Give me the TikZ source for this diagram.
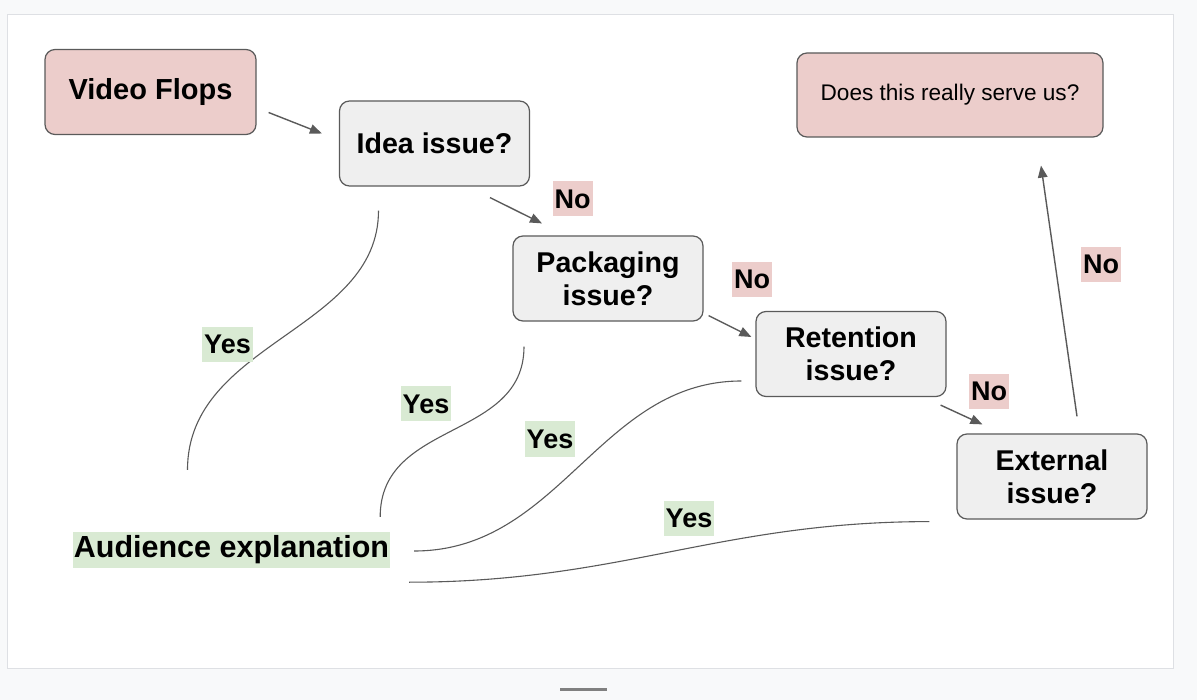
\documentclass[tikz,border=0pt]{standalone}
\usepackage{fontspec}
\setmainfont{Liberation Sans}
\usetikzlibrary{arrows.meta}

\definecolor{flopred}{RGB}{236,205,203}
\definecolor{askgray}{RGB}{239,239,239}
\definecolor{yesgreen}{RGB}{217,234,211}
\definecolor{edgegray}{RGB}{90,90,90}
\definecolor{pagegray}{RGB}{248,249,250}
\definecolor{framegray}{RGB}{222,224,228}

\begin{document}
\begin{tikzpicture}[x=1pt, y=-1pt,
	box/.style={draw=edgegray, line width=1.2pt, rounded corners=10pt, inner sep=0pt, align=center},
	ask/.style={box, fill=askgray, minimum width=190pt, minimum height=85pt, font=\fontsize{28.6}{33}\selectfont\bfseries},
	tag/.style={inner xsep=2pt, inner ysep=0pt, minimum height=35pt, font=\fontsize{27}{30}\selectfont\bfseries},
	no/.style={tag, fill=flopred},
	yes/.style={tag, fill=yesgreen},
	arr/.style={edgegray, line width=1.4pt, -{Triangle[length=12pt, width=9.5pt]}},
	branch/.style={edgegray, line width=1.1pt}]
	\useasboundingbox (0,0) rectangle (1197,700);
	\fill [pagegray] (0,0) rectangle (1197,700);
	\filldraw [fill=white, draw=framegray, line width=0.8pt] (7,14) rectangle (1173,668);
	\draw [gray, line width=3pt] (560,689) -- (607,689);

	\node [box, fill=flopred, minimum width=211pt, minimum height=85pt, font=\fontsize{29}{33}\selectfont\bfseries] (flops) at (150.5,92) {Video Flops};
	\node [ask] (idea) at (434.5,143.5) {Idea issue?};
	\node [ask] (pack) at (608,278.5) {Packaging\\issue?};
	\node [ask] (ret)  at (851,354) {Retention\\issue?};
	\node [ask] (ext)  at (1052,476.5) {External\\issue?};
	\node [box, fill=flopred, minimum width=306pt, minimum height=84pt, font=\fontsize{22.6}{26}\selectfont] (serve) at (950,95) {Does this really serve us?};
	\node [fill=yesgreen, inner sep=0pt, minimum width=317pt, minimum height=36pt, font=\fontsize{30.5}{34}\selectfont\bfseries] (aud) at (231.5,550) {Audience explanation};

	% the "no" chain
	\draw [arr] ([shift={(12,20.5)}]flops.east) -- ([shift={(-17,-10)}]idea.west);
	\draw [arr] ([shift={(55.5,11)}]idea.south) -- ([shift={(-66,-12)}]pack.north);
	\draw [arr] ([shift={(5,-6)}]pack.south east) -- ([shift={(-4,-17)}]ret.west);
	\draw [arr] ([shift={(-6,8)}]ret.south east) -- ([shift={(26,-9)}]ext.north west);
	\draw [arr] ([shift={(25,-17)}]ext.north) -- ([shift={(91,28)}]serve.south);
	\node [no] (no1) at (572.5,199) {No};
	\node [no] (no2) at (752,279.5) {No};
	\node [no] (no3) at (989,391.5) {No};
	\node [no] (no4) at (1101,264.5) {No};

	% the "yes" branches
	\draw [branch] ([shift={(-56,24)}]idea.south) .. controls +(0,120) and +(0,-128) .. ([shift={(-44,-62)}]aud.north);
	\draw [branch] ([shift={(-84,25)}]pack.south) .. controls +(0,94) and +(0,-97) .. ([shift={(-10,-15)}]aud.north east);
	\draw [branch] ([shift={(-14,27)}]ret.west) .. controls +(-142,0) and +(146,0) .. ([shift={(24,1)}]aud.east);
	\draw [branch] ([shift={(-27,2)}]ext.south west) .. controls +(-210,0) and +(211,0) .. ([shift={(19,14)}]aud.south east);
	\node [yes] (yes1) at (227.5,344.5) {Yes};
	\node [yes] (yes2) at (426,404) {Yes};
	\node [yes] (yes3) at (550,439) {Yes};
	\node [yes] (yes4) at (689,518.5) {Yes};
\end{tikzpicture}
\end{document}
